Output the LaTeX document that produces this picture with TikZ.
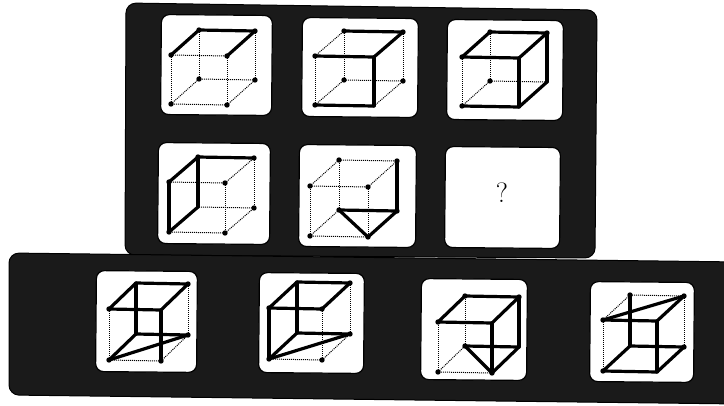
\documentclass[tikz,border=0pt]{standalone}
\usepackage{xcolor}
\usepackage{tikz}
\definecolor{boardgray}{HTML}{1A1A1A}
% #1 name, #2/#3 front lower left corner, #4 width, #5 height, #6/#7 depth
\newcommand{\cubeframe}[7]{
  \coordinate (#1a) at (#2,#3-#5);
  \coordinate (#1b) at (#2+#4,#3-#5+1);
  \coordinate (#1c) at (#2+#4,#3+1);
  \coordinate (#1d) at (#2,#3);
  \coordinate (#1e) at (#2+#6,#3-#5-#7);
  \coordinate (#1f) at (#2+#4+#6,#3-#5-#7+1);
  \coordinate (#1g) at (#2+#4+#6,#3-#7+1);
  \coordinate (#1h) at (#2+#6,#3-#7);
  \foreach \p/\q in {a/b,b/c,c/d,d/a,e/f,f/g,g/h,h/e,a/e,b/f,c/g,d/h}
    \draw[thinedge] (#1\p) -- (#1\q);
}
\newcommand{\fatedges}[2]{
  \foreach \p/\q in {#2}
    \draw[fatedge] (#1\p) -- (#1\q);
}
\newcommand{\cubedots}[2]{
  \foreach \p in {#2}
    \fill (#1\p) circle (2.7pt);
}
\begin{document}
\begin{tikzpicture}[
    x=1pt, y=-1pt,
    board/.style={draw=black, line width=1pt, fill=boardgray, rounded corners=10pt},
    panel/.style={draw=black, line width=1.2pt, fill=white, rounded corners=8pt,
    inner sep=0pt, rotate=-0.5},
    thinedge/.style={densely dotted, line width=1pt},
    fatedge/.style={line width=3.2pt, line cap=round}
]
\useasboundingbox (0,0) rectangle (724,405);
\fill[white] (0,0) rectangle (724,405);

% boards
\draw[board] (126,3) -- (597,10) -- (595,258) -- (125,255) -- cycle;
\draw[board] (9,253) -- (740,262) -- (740,404) -- (9,395) -- cycle;

% panels
\node[panel, minimum width=111pt, minimum height=100pt] (p1) at (216.5,65) {};
\node[panel, minimum width=116pt, minimum height=99pt] (p2) at (360,67.5) {};
\node[panel, minimum width=116pt, minimum height=100pt] (p3) at (505,70) {};
\node[panel, minimum width=112pt, minimum height=101pt] (p4) at (214,193.5) {};
\node[panel, minimum width=117pt, minimum height=102pt] (p5) at (357.5,196) {};
\node[panel, minimum width=115pt, minimum height=101pt] (p6) at (502.5,197.5) {};
\node (mark) at (502,193) {\fontsize{28}{28}\selectfont ?};
\node[panel, minimum width=101pt, minimum height=101pt] (p7) at (146.5,321.5) {};
\node[panel, minimum width=105pt, minimum height=100pt] (p8) at (311.5,323) {};
\node[panel, minimum width=106pt, minimum height=101pt] (p9) at (474,329.5) {};
\node[panel, minimum width=104pt, minimum height=100pt] (p10) at (642,332) {};

% upper cubes
\cubeframe{one}{171}{104}{56}{49}{28}{25}
\fatedges{one}{a/e,e/f,f/b}
\cubedots{one}{a,b,c,d,e,f,g,h}

\cubeframe{two}{315}{105}{59}{49}{29}{25}
\fatedges{two}{a/b,b/c,c/d,b/f,e/f}
\cubedots{two}{a,d,e,f,g,h}

\cubeframe{three}{462}{106}{57}{49}{28}{25}
\fatedges{three}{a/b,b/c,c/d,a/e,e/f,f/b,f/g,g/c}
\cubedots{three}{a,d,e,f,h}

\cubeframe{four}{169}{232}{56}{50}{29}{25}
\fatedges{four}{d/a,a/e,e/f,e/h,h/d}
\cubedots{four}{a,b,c,d,e,f,g}

\cubeframe{five}{310}{236}{58}{50}{29}{26}
\fatedges{five}{f/g,g/h,h/c,c/g}
\cubedots{five}{a,b,c,d,e,f,g,h}

% lower cubes
\cubeframe{six}{109}{360}{52}{51}{27}{26}
\fatedges{six}{a/b,b/f,f/e,e/a,e/h,b/c,h/g,h/d,d/g}
\cubedots{six}{a,c,d,f,g}

\cubeframe{seven}{269}{359}{53}{51}{28}{26}
\fatedges{seven}{a/b,b/f,f/e,e/a,a/d,e/h,h/g,h/d,d/g}
\cubedots{seven}{a,b,c,d,f,g}

\cubeframe{eight}{438}{372}{54}{50}{27}{26}
\fatedges{eight}{a/b,b/f,f/e,e/a,b/c,f/g,h/g,g/c,h/c}
\cubedots{eight}{a,c,d,e,f,h}

\cubeframe{nine}{603}{371}{54}{51}{27}{25}
\fatedges{nine}{a/b,a/f,b/f,e/h,b/c,h/g,g/c,h/d,d/c}
\cubedots{nine}{a,d,e,f,g}
\end{tikzpicture}
\end{document}
